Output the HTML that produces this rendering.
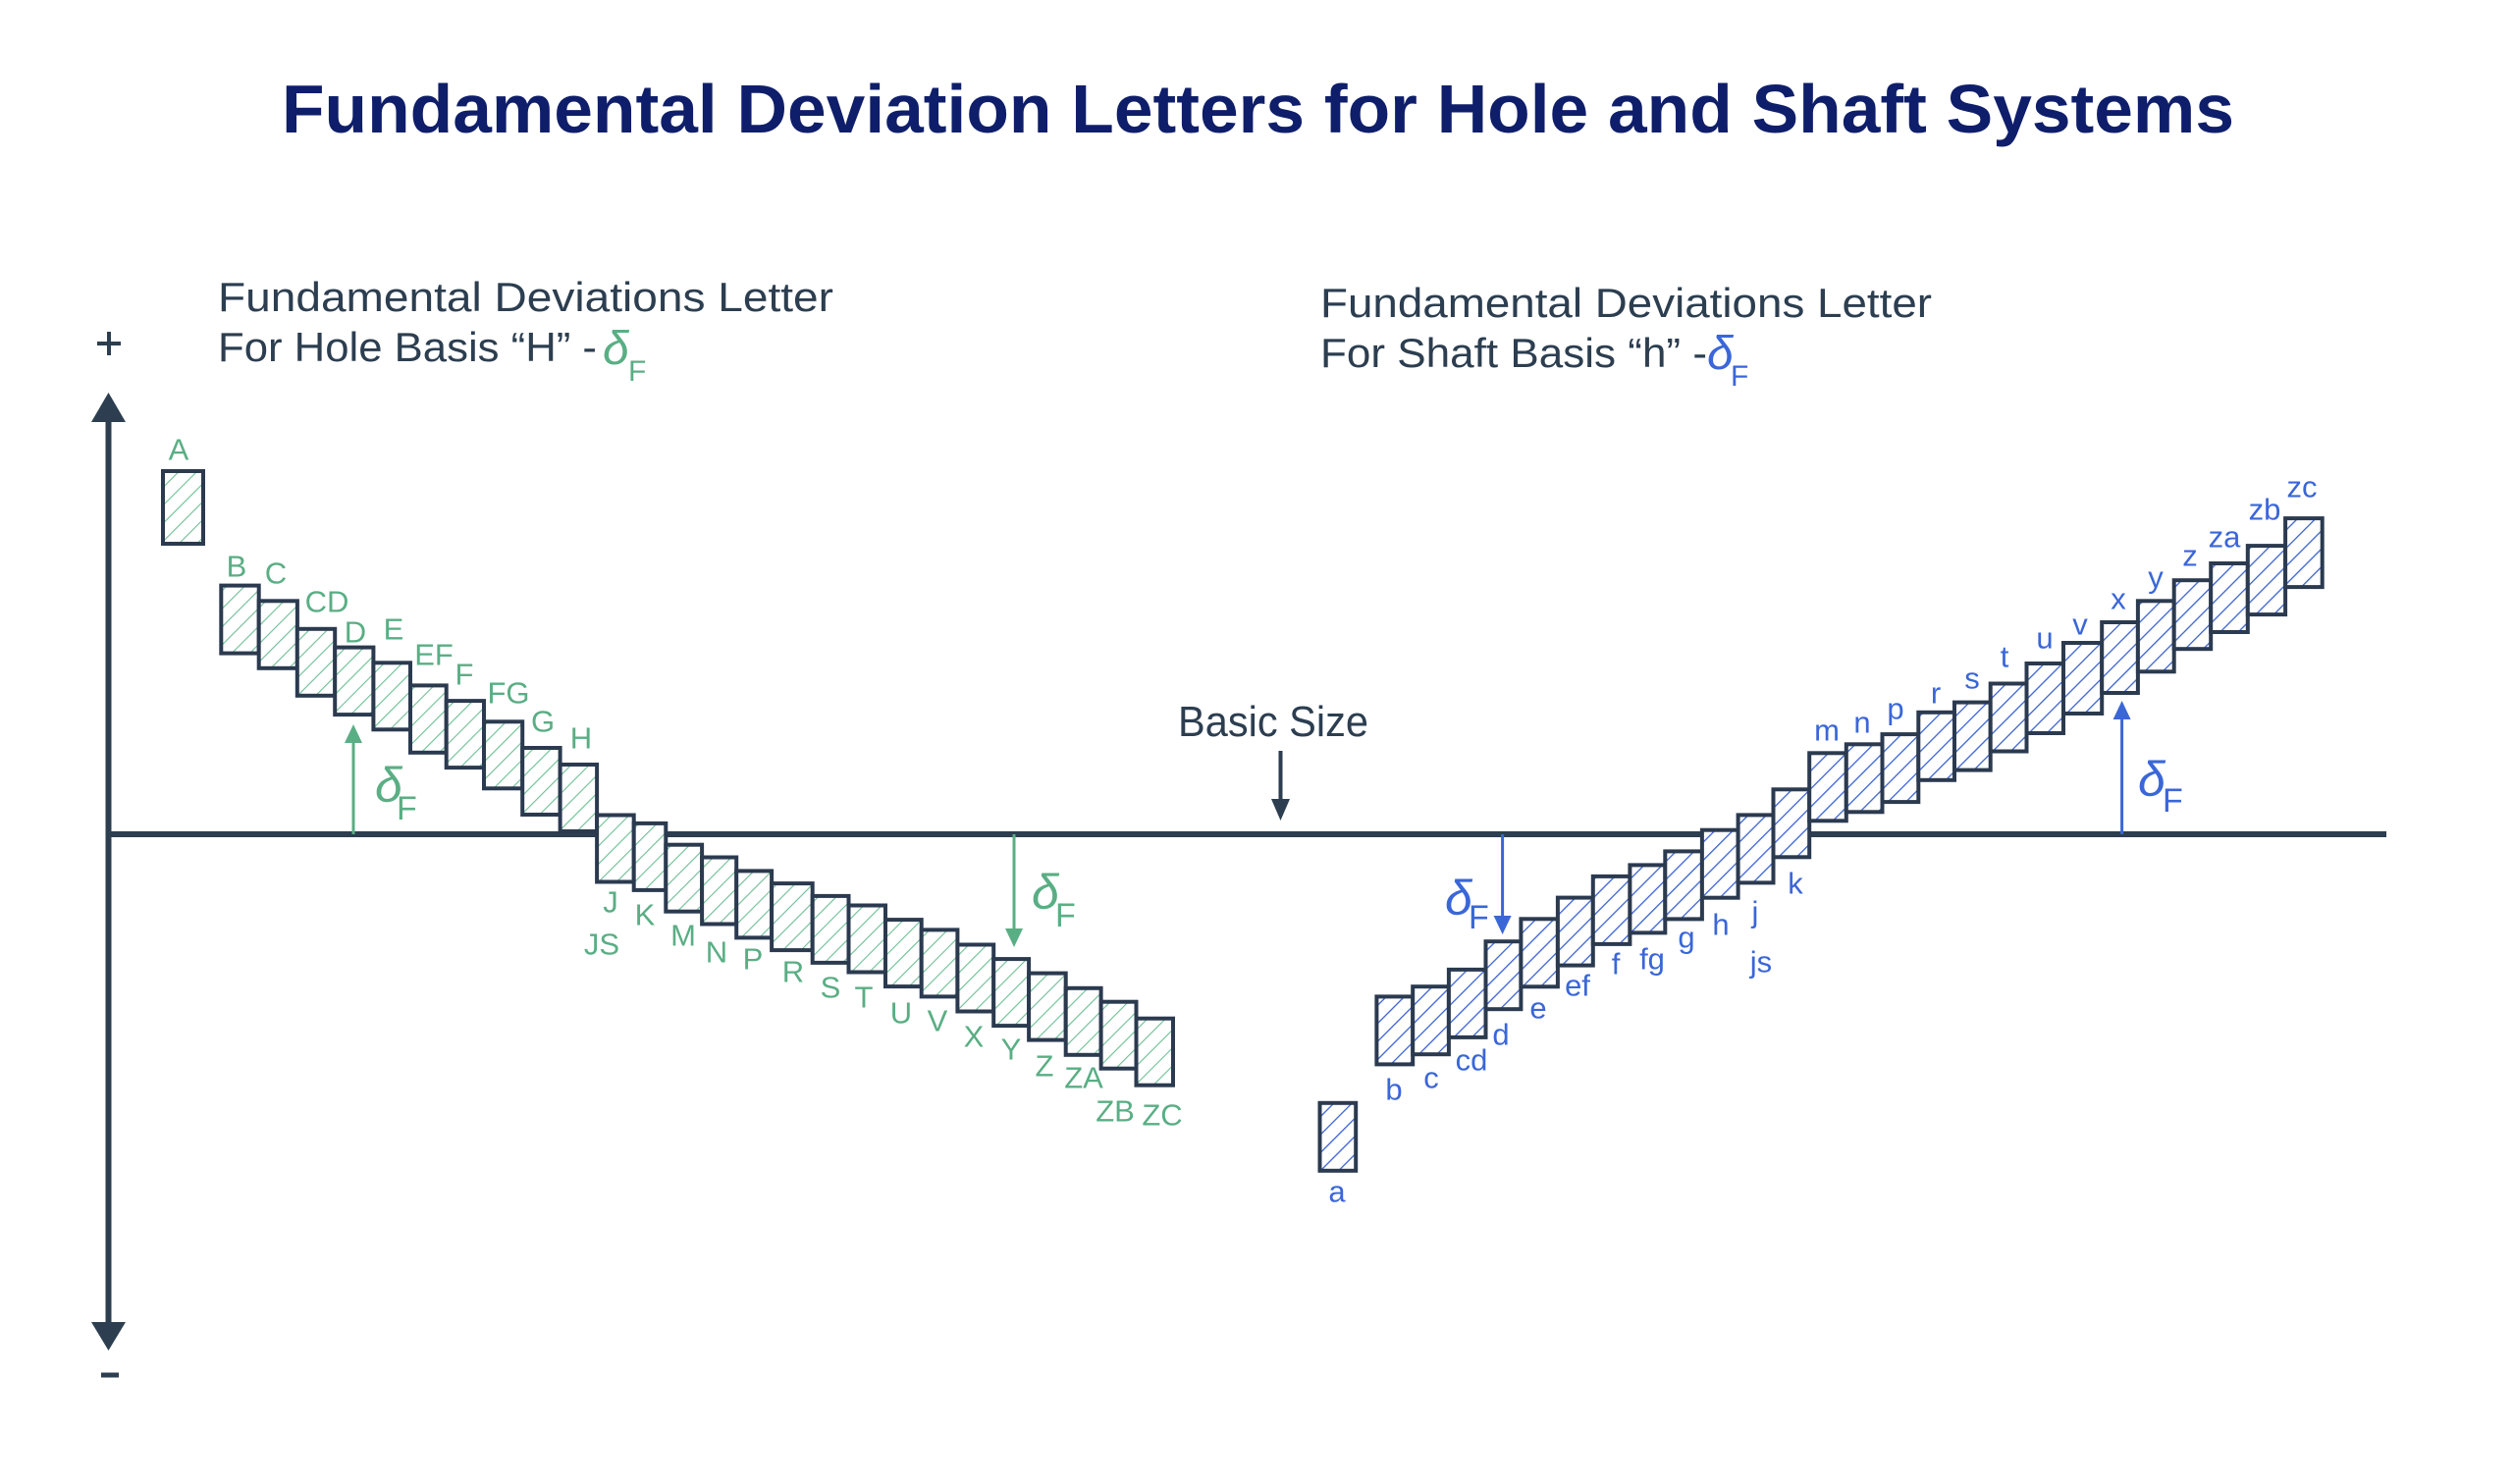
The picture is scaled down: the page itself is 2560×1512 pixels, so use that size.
<!DOCTYPE html>
<html><head><meta charset="utf-8"><style>
html,body{margin:0;padding:0;background:#fff;}
svg{display:block;}
</style></head><body>
<svg width="2560" height="1512" viewBox="0 0 2560 1512" xmlns="http://www.w3.org/2000/svg" font-family="Liberation Sans, sans-serif">
<defs>
<pattern id="hg" patternUnits="userSpaceOnUse" width="13" height="13" patternTransform="rotate(45)">
<rect width="13" height="13" fill="#fff"/><line x1="0" y1="0" x2="0" y2="13" stroke="#6dbf95" stroke-width="2.2"/></pattern>
<pattern id="hb" patternUnits="userSpaceOnUse" width="13" height="13" patternTransform="rotate(45)">
<rect width="13" height="13" fill="#fff"/><line x1="0" y1="0" x2="0" y2="13" stroke="#3a62d2" stroke-width="2.6"/></pattern>
</defs>

<text x="287" y="135" font-size="70" font-weight="bold" fill="#0f1e6a" textLength="1989" lengthAdjust="spacingAndGlyphs">Fundamental Deviation Letters for Hole and Shaft Systems</text>

<g fill="#2c3e50" font-size="42">
<text x="222" y="317" textLength="627" lengthAdjust="spacingAndGlyphs">Fundamental Deviations Letter</text>
<text x="222" y="368" textLength="386" lengthAdjust="spacingAndGlyphs">For Hole Basis “H” -</text>
<text x="1345" y="323" textLength="623" lengthAdjust="spacingAndGlyphs">Fundamental Deviations Letter</text>
<text x="1345" y="374" textLength="394" lengthAdjust="spacingAndGlyphs">For Shaft Basis “h” -</text>
<text x="1200" y="750" font-size="44" textLength="194" lengthAdjust="spacingAndGlyphs">Basic Size</text>
</g>
<g fill="#5aae84"><text x="614" y="371" font-size="48" font-style="italic">δ</text><text x="640" y="388" font-size="30">F</text></g>
<g fill="#3a66d8"><text x="1739" y="376" font-size="48" font-style="italic">δ</text><text x="1763" y="393" font-size="30">F</text></g>

<g stroke="#2c3e50" fill="#2c3e50">
<line x1="110.5" y1="425" x2="110.5" y2="1350" stroke-width="6"/>
<polygon points="110.5,400 93,430 128,430" stroke="none"/>
<polygon points="110.5,1376 93,1347 128,1347" stroke="none"/>
<line x1="108" y1="850" x2="2431" y2="850" stroke-width="6"/>
<line x1="99" y1="350" x2="123" y2="350" stroke-width="4"/>
<line x1="111" y1="338" x2="111" y2="362" stroke-width="4"/>
<line x1="103" y1="1401" x2="121" y2="1401" stroke-width="5"/>
<line x1="1304.5" y1="765" x2="1304.5" y2="818" stroke-width="4"/>
<polygon points="1304.5,836 1295,814 1314,814" stroke="none"/>
</g>

<g fill="url(#hg)" stroke="#2b3a4f" stroke-width="4">
<rect x="166" y="480" width="41" height="74"/>
<rect x="225.3" y="596.6" width="38.4" height="69"/>
<rect x="263.7" y="612.3" width="39.2" height="68.5"/>
<rect x="302.8" y="640.8" width="38.4" height="68"/>
<rect x="341.2" y="659.6" width="39.2" height="68.5"/>
<rect x="380.4" y="675.3" width="37.6" height="68"/>
<rect x="418" y="698.4" width="36.7" height="68.4"/>
<rect x="454.7" y="714.1" width="38.3" height="68"/>
<rect x="493" y="735.3" width="39.2" height="68"/>
<rect x="532.2" y="762" width="38.4" height="68"/>
<rect x="570.6" y="779" width="37.5" height="68"/>
<rect x="608.1" y="830.5" width="37.6" height="68"/>
<rect x="645.7" y="838.9" width="32.6" height="68"/>
<rect x="678.3" y="860.7" width="36.8" height="68"/>
<rect x="715.1" y="873.5" width="35.1" height="68"/>
<rect x="750.2" y="887.4" width="35.9" height="68"/>
<rect x="786.1" y="900.1" width="41.6" height="68"/>
<rect x="827.7" y="912.9" width="36.8" height="68"/>
<rect x="864.5" y="922.5" width="37.5" height="68"/>
<rect x="902" y="937.1" width="36.7" height="68"/>
<rect x="938.7" y="947.4" width="36.7" height="68"/>
<rect x="975.4" y="962.5" width="36.8" height="68"/>
<rect x="1012.2" y="977.1" width="35.9" height="68"/>
<rect x="1048.1" y="991.6" width="37.6" height="68"/>
<rect x="1085.7" y="1006.8" width="35.9" height="68"/>
<rect x="1121.6" y="1020.7" width="35.9" height="68"/>
<rect x="1157.5" y="1037.7" width="37.5" height="68"/>
</g>

<g fill="url(#hb)" stroke="#2b3a4f" stroke-width="4">
<rect x="1344.5" y="1123.8" width="36.7" height="69"/>
<rect x="1402.4" y="1015.4" width="36.8" height="69"/>
<rect x="1439.2" y="1005.2" width="36.7" height="69"/>
<rect x="1475.9" y="987.9" width="37.6" height="69"/>
<rect x="1513.5" y="959.2" width="35.9" height="69"/>
<rect x="1549.4" y="936.3" width="37.5" height="69"/>
<rect x="1586.9" y="914.6" width="35.9" height="69"/>
<rect x="1622.8" y="892.9" width="37.6" height="69"/>
<rect x="1660.4" y="881.4" width="35.9" height="69"/>
<rect x="1696.3" y="867.4" width="37.6" height="69"/>
<rect x="1733.9" y="845.7" width="36.7" height="69"/>
<rect x="1770.6" y="830.4" width="35.9" height="69"/>
<rect x="1806.5" y="804.3" width="36.7" height="69"/>
<rect x="1843.2" y="767.3" width="37.6" height="69"/>
<rect x="1880.8" y="758.3" width="36.7" height="69"/>
<rect x="1917.5" y="748.1" width="36.8" height="69"/>
<rect x="1954.3" y="725.8" width="36.7" height="69"/>
<rect x="1991" y="715.6" width="36.7" height="69"/>
<rect x="2027.7" y="696.5" width="36.8" height="69"/>
<rect x="2064.5" y="676" width="37.5" height="71"/>
<rect x="2102" y="655" width="39.2" height="72"/>
<rect x="2141.2" y="634" width="36.7" height="72"/>
<rect x="2177.9" y="612.3" width="36.8" height="72"/>
<rect x="2214.7" y="591.2" width="37.5" height="70"/>
<rect x="2252.2" y="574" width="37.6" height="70"/>
<rect x="2289.8" y="556.1" width="38.3" height="70"/>
<rect x="2328.1" y="528.1" width="37.6" height="70"/>
</g>

<g fill="#5aae84" font-size="31" text-anchor="middle" dominant-baseline="central">
<text x="182" y="458">A</text><text x="241" y="577">B</text><text x="281" y="584">C</text>
<text x="333" y="613">CD</text><text x="362" y="644">D</text><text x="401" y="641">E</text>
<text x="442" y="667">EF</text><text x="473" y="687">F</text><text x="518" y="706">FG</text>
<text x="553" y="735">G</text><text x="592" y="752">H</text><text x="622" y="919">J</text>
<text x="613" y="962">JS</text><text x="657" y="932">K</text><text x="696" y="953">M</text>
<text x="730" y="970">N</text><text x="767" y="977">P</text><text x="808" y="990">R</text>
<text x="846" y="1006">S</text><text x="880" y="1016">T</text><text x="918" y="1032">U</text>
<text x="955" y="1040">V</text><text x="992" y="1056">X</text><text x="1030" y="1069">Y</text>
<text x="1064" y="1086">Z</text><text x="1104" y="1098">ZA</text><text x="1136" y="1132">ZB</text>
<text x="1184" y="1136">ZC</text>
</g>

<g fill="#3a66d8" font-size="31" text-anchor="middle" dominant-baseline="central">
<text x="1362" y="1214">a</text><text x="1420" y="1110">b</text><text x="1458" y="1098">c</text>
<text x="1499" y="1080">cd</text><text x="1529" y="1054">d</text><text x="1567" y="1027">e</text>
<text x="1607" y="1004">ef</text><text x="1646" y="982">f</text><text x="1683" y="977">fg</text>
<text x="1718" y="955">g</text><text x="1753" y="942">h</text><text x="1788" y="929">j</text>
<text x="1794" y="980">js</text><text x="1829" y="900">k</text><text x="1861" y="744">m</text>
<text x="1897" y="736">n</text><text x="1931" y="722">p</text><text x="1972" y="706">r</text>
<text x="2009" y="691">s</text><text x="2042" y="669">t</text><text x="2083" y="650">u</text>
<text x="2119" y="636">v</text><text x="2158" y="610">x</text><text x="2196" y="588">y</text>
<text x="2231" y="566">z</text><text x="2266" y="547">za</text><text x="2307" y="519">zb</text>
<text x="2345" y="496">zc</text>
</g>

<g stroke="#5aae84" fill="#5aae84">
<line x1="360" y1="850" x2="360" y2="752" stroke-width="3"/>
<polygon points="360,738 351,757 369,757" stroke="none"/>
<line x1="1033" y1="850" x2="1033" y2="950" stroke-width="3"/>
<polygon points="1033,965 1024,946 1042,946" stroke="none"/>
</g>
<g fill="#5aae84" stroke="none">
<text x="382" y="817" font-size="50" font-style="italic">δ</text><text x="404" y="835" font-size="34">F</text>
<text x="1051" y="926" font-size="50" font-style="italic">δ</text><text x="1075" y="944" font-size="34">F</text>
</g>
<g stroke="#3a66d8" fill="#3a66d8">
<line x1="1530.6" y1="850" x2="1530.6" y2="937" stroke-width="3"/>
<polygon points="1530.6,952 1521.6,933 1539.6,933" stroke="none"/>
<line x1="2161.6" y1="850" x2="2161.6" y2="728" stroke-width="3"/>
<polygon points="2161.6,714 2152.6,733 2170.6,733" stroke="none"/>
</g>
<g fill="#3a66d8" stroke="none">
<text x="1472" y="932" font-size="50" font-style="italic">δ</text><text x="1496" y="946" font-size="34">F</text>
<text x="2178" y="811" font-size="50" font-style="italic">δ</text><text x="2203" y="827" font-size="34">F</text>
</g>
</svg>
</body></html>
